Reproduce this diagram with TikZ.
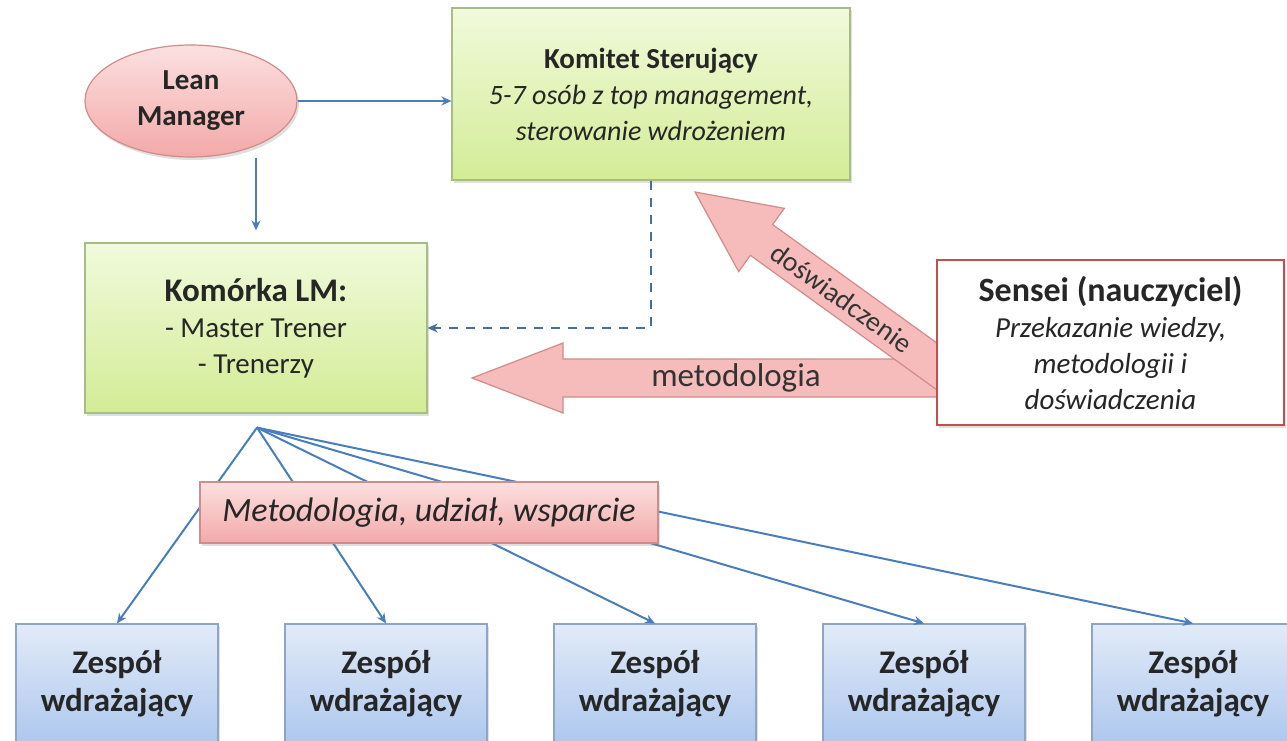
\documentclass[tikz,border=0pt]{standalone}
\usepackage{fontspec}
\setmainfont{Carlito}
\usepackage{xcolor}
\usetikzlibrary{shapes.geometric, arrows.meta, positioning, calc, shadows}

\definecolor{lineblue}{HTML}{4A7EBB}
\definecolor{dashblue}{HTML}{46709C}
\definecolor{greentop}{HTML}{F1FADC}
\definecolor{greenbot}{HTML}{D3EC96}
\definecolor{greenedge}{HTML}{A8BC86}
\definecolor{pinktop}{HTML}{FCE0E0}
\definecolor{pinkbot}{HTML}{F3A9A9}
\definecolor{pinkedge}{HTML}{D08C8A}
\definecolor{bluetop}{HTML}{E2EBF8}
\definecolor{bluebot}{HTML}{ADC7EE}
\definecolor{blueedge}{HTML}{8EA5C8}
\definecolor{senseiedge}{HTML}{C0504D}
\definecolor{fatfill}{HTML}{F6BCBB}

\newcommand{\bigfont}{\fontsize{33}{38}\selectfont}

\begin{document}
\begin{tikzpicture}[
    x=1pt, y=-1pt,
    box/.style={
        rectangle, align=center, inner sep=0pt, text=black!85,
        font=\fontsize{29}{36}\selectfont,
        drop shadow={shadow xshift=2pt, shadow yshift=-3pt, opacity=0.25}
    },
    lean/.style={box, ellipse, top color=pinktop, bottom color=pinkbot, draw=pinkedge, line width=1.2pt},
    board/.style={box, top color=greentop, bottom color=greenbot, draw=greenedge, line width=1.2pt},
    support/.style={box, top color=pinktop, bottom color=pinkbot, draw=pinkedge, line width=1.2pt},
    team/.style={box, top color=bluetop, bottom color=bluebot, draw=blueedge, line width=1.2pt,
        minimum width=202pt, minimum height=120pt, font=\bigfont},
    teacher/.style={box, fill=white, draw=senseiedge, line width=2.5pt},
    arrow/.style={-{Stealth[length=10pt, width=9pt]}, line width=2pt, draw=lineblue},
    dasharrow/.style={arrow, draw=dashblue, line width=2.6pt, dash pattern=on 9pt off 8pt},
    fatarrow/.style={fill=fatfill, draw=pinkedge, line width=1.2pt},
    fatlabel/.style={font=\fontsize{33}{36}\selectfont, text=black!80}
]
\useasboundingbox[fill=white] (0,0) rectangle (1287,741);

% Top row
\node[lean, minimum width=212pt, minimum height=112pt] (lean) at (191,101) {\textbf{Lean}\\\textbf{Manager}};
\node[board, minimum width=398pt, minimum height=172pt] (komitet) at (651,94)
    {\textbf{Komitet Sterujący}\\\fontsize{28}{36}\selectfont\textit{5-7 osób z top management,}\\\fontsize{28}{36}\selectfont\textit{sterowanie wdrożeniem}};

% Middle row
\node[board, minimum width=342pt, minimum height=170pt] (komorka) at (256,328)
    {{\bigfont\textbf{Komórka LM:}}\\- Master Trener\\- Trenerzy};

% Arrows from Lean Manager
\draw[arrow] (lean.east) -- (komitet.west |- lean.east);
\draw[arrow, shorten >=12pt] (komorka.north |- lean.south) -- (komorka.north);

% Dashed link
\draw[dasharrow] (komitet.south) |- (komorka.east);

% Big arrows from Sensei
\begin{scope}[shift={(472,378)}]
    \filldraw[fatarrow] (0,0) -- (91,-35) -- (91,-19) -- (528,-19) -- (528,19) -- (91,19) -- (91,35) -- cycle;
    \node[fatlabel] (metlabel) at (264,0) {metodologia};
\end{scope}
\begin{scope}[shift={(695,192)}, rotate=-35.8]
    \filldraw[fatarrow] (0,0) -- (82,-39) -- (82,-19) -- (370,-19) -- (370,19) -- (82,19) -- (82,39) -- cycle;
    \node[fatlabel, transform shape, font=\fontsize{28}{36}\selectfont] (doslabel) at (181,0) {doświadczenie};
\end{scope}

\node[teacher, minimum width=347pt, minimum height=165pt] (sensei) at (1110.5,342.5)
    {{\fontsize{34}{38}\selectfont\textbf{Sensei (nauczyciel)}}\\\textit{Przekazanie wiedzy,}\\\textit{metodologii i}\\\textit{doświadczenia}};

% Teams
\coordinate (fan) at ($(komorka.south)+(1,14)$);
\foreach \i/\cx in {1/117, 2/386, 3/655, 4/924, 5/1193} {
    \node[team] (team\i) at (\cx,684) {\textbf{Zespół}\\\textbf{wdrażający}};
    \draw[arrow] (fan) -- (team\i.north);
}

% Support label over the fan
\node[support, minimum width=458pt, minimum height=61pt, font=\fontsize{34}{38}\selectfont] (metod) at (429,512.5)
    {\textit{Metodologia, udział, wsparcie}};

\end{tikzpicture}
\end{document}
